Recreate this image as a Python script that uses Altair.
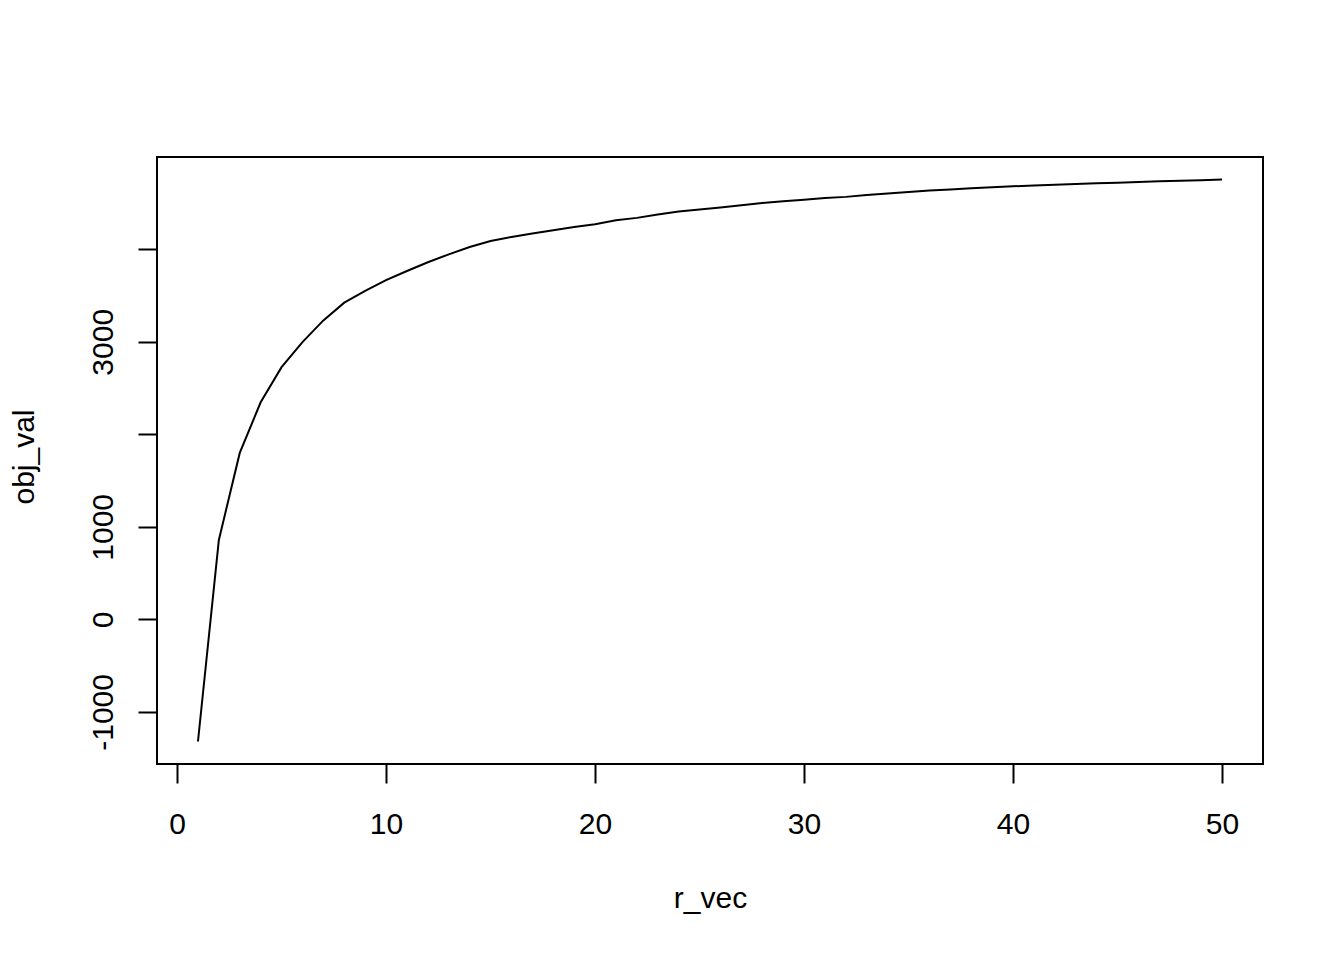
import altair as alt
import pandas as pd

r_vec = list(range(1, 51))
obj_val = [
    -1320, 859, 1799, 2346, 2726, 2996, 3231, 3423, 3551, 3667,
    3765, 3860, 3945, 4025, 4090, 4133, 4169, 4205, 4241, 4270,
    4313, 4339, 4375, 4407, 4429, 4451, 4476, 4501, 4519, 4535,
    4555, 4566, 4585, 4603, 4620, 4634, 4647, 4659, 4670, 4681,
    4689, 4697, 4705, 4712, 4720, 4727, 4734, 4741, 4747, 4754,
]
x_ticks = [0, 10, 20, 30, 40, 50]
y_ticks = [-1000, 0, 1000, 2000, 3000, 4000]

df = pd.DataFrame({"r_vec": r_vec, "obj_val": obj_val})

# R-style 4% axis expansion
xmin, xmax = min(r_vec), max(r_vec)
ymin, ymax = min(obj_val), max(obj_val)
xd = [xmin - 0.04 * (xmax - xmin), xmax + 0.04 * (xmax - xmin)]
yd = [ymin - 0.04 * (ymax - ymin), ymax + 0.04 * (ymax - ymin)]

FONT = "Liberation Sans"
W, H = 1106, 607

chart = (
    alt.Chart(df)
    .mark_line(color="black", strokeWidth=2)
    .encode(
        x=alt.X(
            "r_vec:Q",
            scale=alt.Scale(domain=xd, nice=False, zero=False),
            axis=alt.Axis(
                values=x_ticks,
                title="r_vec",
                grid=False,
                domain=False,
                tickColor="black",
                tickWidth=2,
                tickSize=19,
                labelFont=FONT,
                labelFontSize=30,
                labelColor="black",
                labelBaseline="alphabetic",
                labelPadding=50,
                labelExpr="toString(datum.value)",
                labelFlush=False,
                labelOverlap=False,
                titleFont=FONT,
                titleFontSize=30,
                titleFontWeight="normal",
                titleColor="black",
                titleBaseline="alphabetic",
                titleAlign="center",
                titleX=W / 2,
                titleY=143,
            ),
        ),
        y=alt.Y(
            "obj_val:Q",
            scale=alt.Scale(domain=yd, nice=False, zero=False),
            axis=alt.Axis(
                values=y_ticks,
                title="obj_val",
                grid=False,
                domain=False,
                tickColor="black",
                tickWidth=2,
                tickSize=19,
                labelFont=FONT,
                labelFontSize=30,
                labelColor="black",
                labelAngle=270,
                labelAlign="center",
                labelBaseline="alphabetic",
                labelPadding=26,
                labelFlush=False,
                labelOverlap=False,
                labelExpr="(datum.value == 2000 || datum.value == 4000) ? '' : toString(datum.value)",
                titleFont=FONT,
                titleFontSize=30,
                titleFontWeight="normal",
                titleColor="black",
                titleAngle=270,
                titleAlign="center",
                titleBaseline="alphabetic",
                titleX=-124,
                titleY=H / 2 - 4,
            ),
        ),
    )
    .properties(
        width=W,
        height=H,
        autosize=alt.AutoSizeParams(type="none"),
        padding={"left": 149, "top": 149, "right": 70, "bottom": 180},
        background="white",
    )
    .configure_view(stroke="black", strokeWidth=2, fill="white")
)

chart.save("out.html", embed_options={"renderer": "svg", "actions": False})
